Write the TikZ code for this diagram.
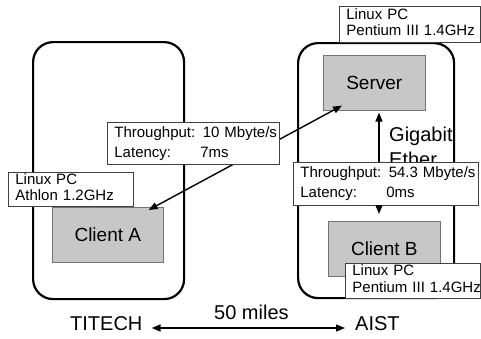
\documentclass[tikz,border=0pt]{standalone}
\usepackage{fontspec}
\setmainfont{Liberation Sans}
\usetikzlibrary{arrows.meta,calc}
\newlength\tpwidth
\begin{document}
\begin{tikzpicture}[x=1pt,y=-1pt,
  site/.style={draw, line width=2.2pt, rounded corners=20pt, anchor=north west, inner sep=0pt},
  host/.style={draw=black!55, line width=0.6pt, fill=black!22, anchor=north west, inner sep=0pt, font=\fontsize{19}{22}\selectfont},
  lbl/.style={draw=black!75, line width=0.8pt, fill=white, anchor=north west, inner xsep=7pt, inner ysep=0pt, align=left, font=\fontsize{15}{16.5}\selectfont},
  tp/.style={lbl, font=\fontsize{15}{20}\selectfont},
  big/.style={font=\fontsize{20}{25}\selectfont, inner sep=0pt, anchor=base west},
  arr/.style={line width=1.4pt, -{Triangle[length=9pt,width=7pt]}},
  darr/.style={line width=1.4pt, {Triangle[length=9pt,width=7pt]}-{Triangle[length=9pt,width=7pt]}},
]
\useasboundingbox (0,0) rectangle (481,338);
% sites
\node[site, minimum width=151pt, minimum height=257pt] (titechbox) at (32,41) {};
\node[site, minimum width=156pt, minimum height=255pt] (aistbox) at (297,42) {};
% hosts
\node[host, minimum width=102pt, minimum height=55pt] (server) at (323,55) {Server};
\node[host, minimum width=112pt, minimum height=55pt] (clientB) at (328,221) {Client B};
\node[host, minimum width=111pt, minimum height=55pt] (clientA) at (52,207) {Client A};
% gigabit text
\node[big] (gig1) at (389,141) {Gigabit};
\node[big] (gig2) at (389,166) {Ether};
% WAN arrow
\draw[darr] ($(clientA.north east)+(-15,3)$) -- ($(server.south west)+(19,-5)$);
% labels
\node[tp, text width=158pt, minimum height=42pt] (tp1) at (107,122)
  {\settowidth{\tpwidth}{Throughput:\ }\mbox{Throughput: 10 Mbyte/s}\\\mbox{\makebox[\tpwidth][l]{Latency:}7ms}};
\node[tp, text width=171pt, minimum height=43pt] (tp2) at (293,162)
  {\settowidth{\tpwidth}{Throughput:\ }\mbox{Throughput: 54.3 Mbyte/s}\\\mbox{\makebox[\tpwidth][l]{Latency:}0ms}};
\node[lbl, text width=111pt, minimum height=34pt] (labA) at (8,172)
  {\begin{tabular}{@{}l@{}}Linux PC\\ Athlon 1.2GHz\end{tabular}};
\node[lbl, text width=127pt, minimum height=36pt] (labS) at (339,6)
  {\begin{tabular}{@{}l@{}}Linux PC\\ Pentium III 1.4GHz\end{tabular}};
\node[lbl, text width=121pt, minimum height=35pt] (labB) at (345,263)
  {\begin{tabular}{@{}l@{}}Linux PC\\ Pentium III 1.4GHz\end{tabular}};
% LAN arrows
\coordinate (gx) at (379,0);
\draw[arr, shorten >=2pt] (gx |- tp2.north) -- (gx |- server.south);
\draw[arr, shorten >=7pt] (gx |- tp2.south) -- (gx |- clientB.north);
% bottom
\node[big] (titech) at (70,330) {TITECH};
\node[big] (aist) at (355,330) {AIST};
\node[big] (miles) at (214,319) {50 miles};
\draw[darr] ($(titech.base east)+(9,-2)$) -- ($(aist.base west)+(-10,-2)$);
\end{tikzpicture}
\end{document}
